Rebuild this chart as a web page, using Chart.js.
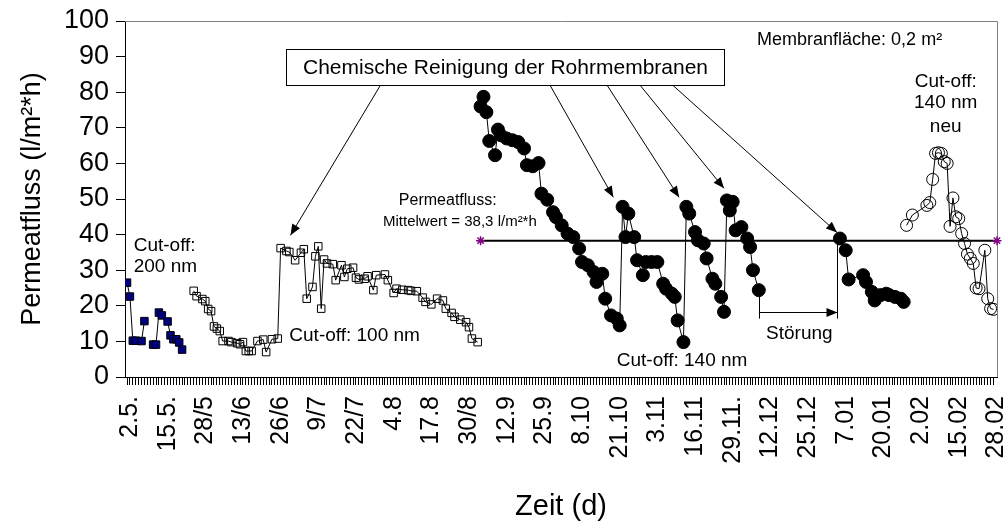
<!DOCTYPE html>
<html><head><meta charset="utf-8">
<script src="https://cdn.jsdelivr.net/npm/chart.js@4/dist/chart.umd.min.js"></script>
<style>html,body{margin:0;padding:0;background:#fff}</style>
</head><body>
<canvas id="c" width="1008" height="524"></canvas>
<script>
// ---- data ----
const tickLabels = ['2.5.','15.5.','28/5','13/6','26/6','9/7','22/7','4.8','17.8','30/8','12.9','25.9','8.10','21.10','3.11','16.11','29.11.','12.12','25.12','7.01','20.01','2.02','15.02','28.02'];
const dayCount = 300;
const labelEvery = 13;

const cutoff200Day  = [0,1,2,3,5,6,7,9,10,11,12,14,15,16,17,18,19];
const cutoff200Flux = [26.5,22.6,10.2,10.2,10.1,15.7,null,9.1,9.1,18.1,17.3,15.6,11.7,10.6,10.6,9.7,7.7];

const cutoff100Day  = [23,24,26,27,28,29,30,31,32,33,35,36,38,39,40,41,42,43,45,47,48,50,52,53,55,56,58,60,61,62,64,65,66,67,68,69,71,72,74,75,76,78,79,80,82,83,85,86,89,90,92,93,95,97,98,100,102,103,105,107,109,110,112,113,115,117,118,119,121];
const cutoff100Flux = [24.2,22.7,21.9,21.3,19.1,18.5,14.2,13.6,12.9,10.1,10.1,9.8,9.5,9.2,9.8,7.3,7.3,7.3,10.1,10.5,7.0,10.6,10.8,36.2,35.4,35.1,32.8,34.9,35.9,22.0,25.3,33.9,36.7,19.2,33.0,31.9,31.7,27.2,31.4,28.1,30.4,30.7,27.9,27.4,27.6,28.3,24.4,28.6,28.8,27.2,23.6,24.8,24.5,24.4,24.2,24.1,22.3,21.1,20.4,22.0,21.5,19.2,18.0,16.9,16.1,15.4,14.0,10.8,9.8];

const cutoff140Day  = [122,123,124,125,127,128,129,131,133,135,137,138,140,142,143,145,147,148,150,152,154,156,157,159,161,162,164,165,167,169,170,171,172,173,175,176,178,179,181,183,185,186,188,189,190,192,193,194,196,197,199,200,202,203,205,206,207,208,209,210,212,214,215,216,218,230,246,248,249,254,255,257,258,260,262,263,265,267,268];
const cutoff140Flux = [76,78.7,74.4,66.3,62.3,69.5,67.9,67,66.5,66,64.2,59.5,59.2,60.1,51.5,49.8,46.3,44.9,42.6,40.3,39.3,36.1,32.3,31.4,29.5,26.7,29,22,17.3,16.4,14.5,47.8,39.3,45.9,39.3,32.8,28.6,32.3,32.3,32.3,26.2,24.8,23.4,22.5,15.9,9.8,47.8,45.9,40.7,38.4,37.5,33.3,27.6,26.2,22.5,18.3,49.6,46.8,49.2,41.2,42.1,38.9,36.5,30,24.4,null,38.9,35.6,27.4,28.6,26.7,23.9,21.5,23,23.4,23,22.5,22,21.1];

const cutoff140neuDay  = [269,271,276,277,278,279,280,281,282,283,284,285,286,287,288,289,290,291,292,293,294,296,297,298,299];
const cutoff140neuFlux = [42.6,45.5,48.2,49,55.5,62.8,63,62.8,60.5,60,42.3,50.3,45,44.5,40.3,37.5,34.5,33.3,31.9,25,24.8,35.6,22,19.2,19];

const meanFlux = 38.3;
const meanDays = [122, 300.2];

// ---- annotations (data coordinates) ----
const FONT = '"Liberation Sans", Arial, Helvetica, sans-serif';
const notes = [
  {t:'Cut-off:', x:2.3, y:37, s:19, a:'left'},
  {t:'200 nm', x:2.3, y:30.9, s:19, a:'left'},
  {t:'Cut-off: 100 nm', x:56, y:11.7, s:19, a:'left'},
  {t:'Permeatfluss:', x:93.8, y:49.6, s:16, a:'left'},
  {t:'Mittelwert = 38,3 l/m²*h', x:141.4, y:43.5, s:15, a:'right'},
  {t:'Cut-off: 140 nm', x:169, y:4.7, s:19, a:'left'},
  {t:'Störung', x:220.5, y:12.2, s:19, a:'left'},
  {t:'Membranfläche: 0,2 m²', x:217.4, y:94.6, s:18, a:'left'},
  {t:'Cut-off:', x:282.5, y:82.9, s:19, a:'center'},
  {t:'140 nm', x:282.5, y:76.9, s:19, a:'center'},
  {t:'neu', x:282.5, y:70.2, s:19, a:'center'}
];
const cleanBox = {t:'Chemische Reinigung der Rohrmembranen', x1:54.7, x2:205.7, y1:92.0, y2:81.9, s:21};
const cleanArrows = [
  {x0:87.4, y0:81.9, x1:56.4, y1:39.8},
  {x0:146.0, y0:81.9, x1:167.8, y1:50.5},
  {x0:165.7, y0:81.9, x1:190.5, y1:50.5},
  {x0:177.1, y0:81.9, x1:206.0, y1:53.0},
  {x0:188.4, y0:81.9, x1:245.0, y1:40.6}
];
const stoerung = {xL:218, xR:245, y:18.3, yL:24.4, yR:38.4, yBottom:16.4};

const pts = (xs, ys) => xs.map((x, i) => ({x, y: ys[i]}));

function arrow(ctx, x0, y0, x1, y1, len, half) {
  ctx.beginPath(); ctx.moveTo(x0, y0); ctx.lineTo(x1, y1); ctx.stroke();
  const ang = Math.atan2(y1 - y0, x1 - x0);
  ctx.beginPath();
  ctx.moveTo(x1, y1);
  ctx.lineTo(x1 - len*Math.cos(ang) + half*Math.sin(ang), y1 - len*Math.sin(ang) - half*Math.cos(ang));
  ctx.lineTo(x1 - len*Math.cos(ang) - half*Math.sin(ang), y1 - len*Math.sin(ang) + half*Math.cos(ang));
  ctx.closePath(); ctx.fill();
}

const framePlugin = {
  id: 'frame',
  beforeDatasetsDraw(chart) {
    const {ctx, chartArea: a} = chart;
    ctx.save();
    ctx.strokeStyle = '#808080'; ctx.lineWidth = 1;
    ctx.beginPath();
    ctx.moveTo(a.left, Math.round(a.top) + 0.5);
    ctx.lineTo(Math.round(a.right) + 0.5, Math.round(a.top) + 0.5);
    ctx.lineTo(Math.round(a.right) + 0.5, a.bottom);
    ctx.stroke();
    ctx.restore();
  },
  afterDatasetsDraw(chart) {
    const {ctx, scales: {x, y}} = chart;
    const X = v => x.getPixelForValue(v), Y = v => y.getPixelForValue(v);
    ctx.save();
    ctx.fillStyle = '#000'; ctx.strokeStyle = '#000'; ctx.lineWidth = 1;
    ctx.textBaseline = 'middle';
    notes.forEach(n => {
      ctx.font = n.s + 'px ' + FONT; ctx.textAlign = n.a;
      ctx.fillText(n.t, X(n.x), Y(n.y));
    });
    const bx = Math.round(X(cleanBox.x1)) + 0.5, by = Math.round(Y(cleanBox.y1)) + 0.5;
    const bw = Math.round(X(cleanBox.x2) - X(cleanBox.x1)), bh = Math.round(Y(cleanBox.y2) - Y(cleanBox.y1));
    ctx.fillStyle = '#fff'; ctx.fillRect(bx, by, bw, bh);
    ctx.strokeRect(bx, by, bw, bh);
    ctx.fillStyle = '#000';
    ctx.font = cleanBox.s + 'px ' + FONT; ctx.textAlign = 'center';
    ctx.fillText(cleanBox.t, bx + bw/2, by + bh/2 + 1);
    cleanArrows.forEach(r => arrow(ctx, X(r.x0), Y(r.y0), X(r.x1), Y(r.y1), 11, 4.5));
    const xl = Math.round(X(stoerung.xL)) + 0.5, xr = Math.round(X(stoerung.xR)) + 0.5;
    ctx.beginPath();
    ctx.moveTo(xl, Y(stoerung.yL)); ctx.lineTo(xl, Y(stoerung.yBottom));
    ctx.moveTo(xr, Y(stoerung.yR)); ctx.lineTo(xr, Y(stoerung.yBottom));
    ctx.stroke();
    arrow(ctx, xl, Math.round(Y(stoerung.y)) + 0.5, xr, Math.round(Y(stoerung.y)) + 0.5, 11, 4.5);
    ctx.restore();
  }
};

const lineStyle = {showLine: true, borderColor: '#000', borderWidth: 1, tension: 0, spanGaps: false, pointBorderColor: '#000', pointBorderWidth: 1};

new Chart(document.getElementById('c'), {
  type: 'scatter',
  data: {
    datasets: [
      {...lineStyle, label: 'Mittelwert', data: pts(meanDays, [meanFlux, meanFlux]), borderWidth: 2,
        pointStyle: 'star', pointRadius: 4.5, pointBorderColor: '#800080', pointBorderWidth: 1.5, clip: false},
      {...lineStyle, label: 'Cut-off 200 nm', data: pts(cutoff200Day, cutoff200Flux),
        pointStyle: 'rect', pointRadius: 5.3, pointBackgroundColor: '#000080'},
      {...lineStyle, label: 'Cut-off 100 nm', data: pts(cutoff100Day, cutoff100Flux),
        pointStyle: 'rect', pointRadius: 5.3, pointBackgroundColor: 'rgba(0,0,0,0)'},
      {...lineStyle, label: 'Cut-off 140 nm', data: pts(cutoff140Day, cutoff140Flux),
        pointStyle: 'circle', pointRadius: 6.5, pointBackgroundColor: '#000'},
      {...lineStyle, label: 'Cut-off 140 nm neu', data: pts(cutoff140neuDay, cutoff140neuFlux),
        pointStyle: 'circle', pointRadius: 6, pointBackgroundColor: 'rgba(0,0,0,0)'}
    ]
  },
  options: {
    responsive: false, animation: false, devicePixelRatio: 1,
    layout: {padding: {top: 21, right: 11, left: 0, bottom: 0}},
    plugins: {legend: {display: false}, tooltip: {enabled: false}},
    scales: {
      x: {
        type: 'linear', min: -0.7, max: 300.2,
        afterBuildTicks: s => { s.ticks = Array.from({length: dayCount}, (_, i) => ({value: i})); },
        afterFit: s => { s.height = 147; s.paddingLeft = 0; s.paddingRight = 0; },
        grid: {drawOnChartArea: false, tickLength: 8, color: '#000', tickColor: '#000'},
        border: {color: '#000', width: 1},
        ticks: {autoSkip: false, minRotation: 90, maxRotation: 90, padding: 11, labelOffset: 3, color: '#000',
          font: {family: FONT, size: 25},
          callback: v => (v % labelEvery === 0 ? tickLabels[v / labelEvery] : '')},
        title: {display: true, text: 'Zeit (d)', color: '#000', font: {family: FONT, size: 29}, padding: {top: 0, bottom: 0}}
      },
      y: {
        min: 0, max: 100,
        afterFit: s => { s.width = 125; s.paddingTop = 0; s.paddingBottom = 0; },
        grid: {drawOnChartArea: false, tickLength: 9, color: '#000', tickColor: '#000'},
        border: {color: '#000', width: 1},
        ticks: {stepSize: 10, padding: 7, color: '#000', font: {family: FONT, size: 27}},
        title: {display: true, text: 'Permeatfluss (l/m²*h)', color: '#000', font: {family: FONT, size: 27}, padding: {top: 16, bottom: 0}}
      }
    }
  },
  plugins: [framePlugin]
});
</script>
</body></html>
